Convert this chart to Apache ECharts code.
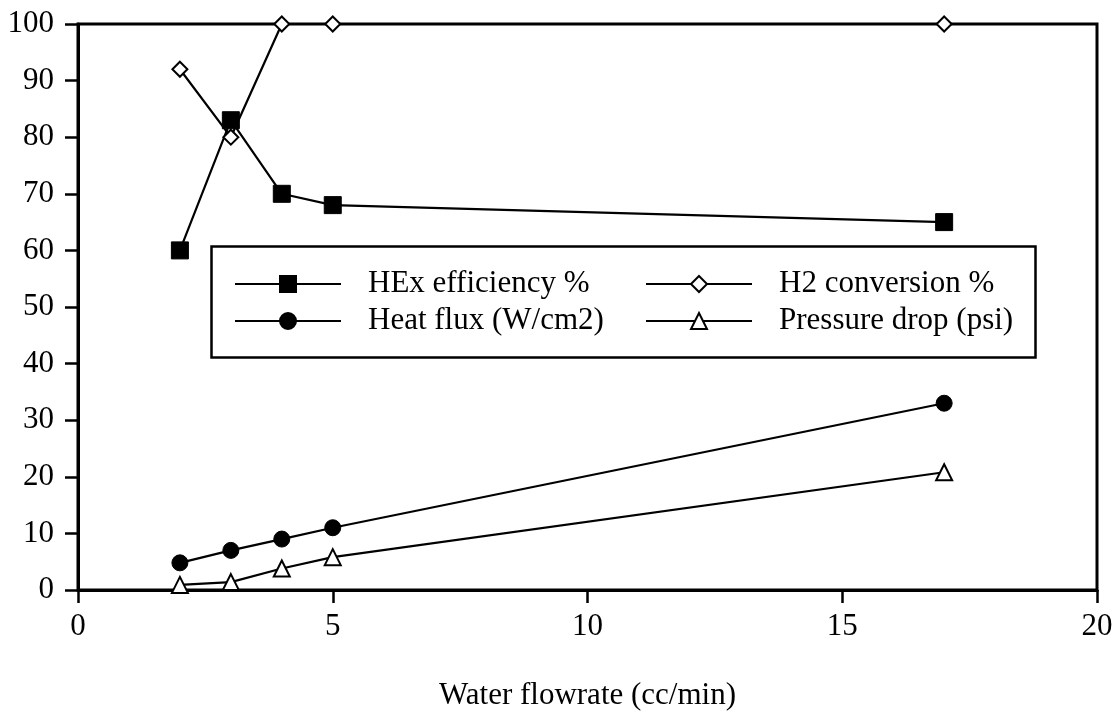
<!DOCTYPE html>
<html>
<head>
<meta charset="utf-8">
<script src="https://cdn.jsdelivr.net/npm/echarts@6/dist/echarts.min.js"></script>
<style>
  html, body { margin: 0; padding: 0; background: #fff; }
  #chart { width: 1119px; height: 717px; }
</style>
</head>
<body>
<div id="chart"></div>
<script>
// water flowrate (cc/min)
const flowrate = [2, 3, 4, 5, 17];

const hexEfficiency = [60, 83, 70, 68, 65];
const h2Conversion = [92, 80, 100, 100, 100];
const heatFlux = [4.8, 7, 9, 11, 33];
const pressureDrop = [0.9, 1.4, 3.8, 5.8, 20.8];

const seriesNames = ['HEx efficiency %', 'H2 conversion %', 'Heat flux (W/cm2)', 'Pressure drop (psi)'];

const FONT = '"Liberation Serif", "DejaVu Serif", serif';

const pairs = (ys) => flowrate.map((x, i) => [x, ys[i]]);

const chart = echarts.init(document.getElementById('chart'));

const lineStyle = { color: '#000', width: 2.2 };

const legendCommon = {
  orient: 'vertical',
  itemWidth: 106,
  itemHeight: 20,
  itemGap: 5,
  textStyle: {
    fontFamily: FONT,
    fontSize: 31,
    color: '#000',
    padding: [0, 0, 0, 22],
    lineHeight: 32
  },
  selectedMode: false
};

chart.setOption({
  animation: false,
  backgroundColor: '#fff',
  grid: {
    left: 78, right: 22, top: 24, bottom: 127,
    show: true, borderColor: '#000', borderWidth: 3
  },
  legend: [
    Object.assign({}, legendCommon, { left: 229, top: 263, data: [seriesNames[0], seriesNames[2]] }),
    Object.assign({}, legendCommon, { left: 640, top: 263, data: [seriesNames[1], seriesNames[3]] })
  ],
  graphic: [{
    type: 'rect',
    left: 209, top: 244,
    shape: { width: 824, height: 111 },
    style: { fill: 'none', stroke: '#000', lineWidth: 2.5 },
    z: 5
  }],
  xAxis: {
    type: 'value',
    min: 0, max: 20, interval: 5,
    name: 'Water flowrate (cc/min)',
    nameLocation: 'middle',
    nameGap: 90,
    nameTextStyle: { fontFamily: FONT, fontSize: 31, color: '#000' },
    axisLine: { onZero: false, lineStyle: { color: '#000', width: 3 } },
    axisTick: { length: 13, lineStyle: { color: '#000', width: 2.5 } },
    axisLabel: { fontFamily: FONT, fontSize: 31, color: '#000', margin: 21 },
    splitLine: { show: false }
  },
  yAxis: {
    type: 'value',
    min: 0, max: 100, interval: 10,
    axisLine: { show: true, onZero: false, lineStyle: { color: '#000', width: 3 } },
    axisTick: { show: true, length: 13, lineStyle: { color: '#000', width: 2.5 } },
    axisLabel: { fontFamily: FONT, fontSize: 31, color: '#000', margin: 24 },
    splitLine: { show: false }
  },
  series: [
    {
      name: seriesNames[0], type: 'line', data: pairs(hexEfficiency),
      symbol: 'rect', symbolSize: 17,
      lineStyle: lineStyle,
      itemStyle: { color: '#000', borderColor: '#000', borderWidth: 1 }
    },
    {
      name: seriesNames[1], type: 'line', data: pairs(h2Conversion),
      symbol: 'diamond', symbolSize: 15,
      lineStyle: lineStyle,
      itemStyle: { color: '#fff', borderColor: '#000', borderWidth: 2 }
    },
    {
      name: seriesNames[2], type: 'line', data: pairs(heatFlux),
      symbol: 'circle', symbolSize: 16,
      lineStyle: lineStyle,
      itemStyle: { color: '#000', borderColor: '#000', borderWidth: 1 }
    },
    {
      name: seriesNames[3], type: 'line', data: pairs(pressureDrop),
      symbol: 'triangle', symbolSize: 16,
      lineStyle: lineStyle,
      itemStyle: { color: '#fff', borderColor: '#000', borderWidth: 2 }
    }
  ]
});
</script>
</body>
</html>
